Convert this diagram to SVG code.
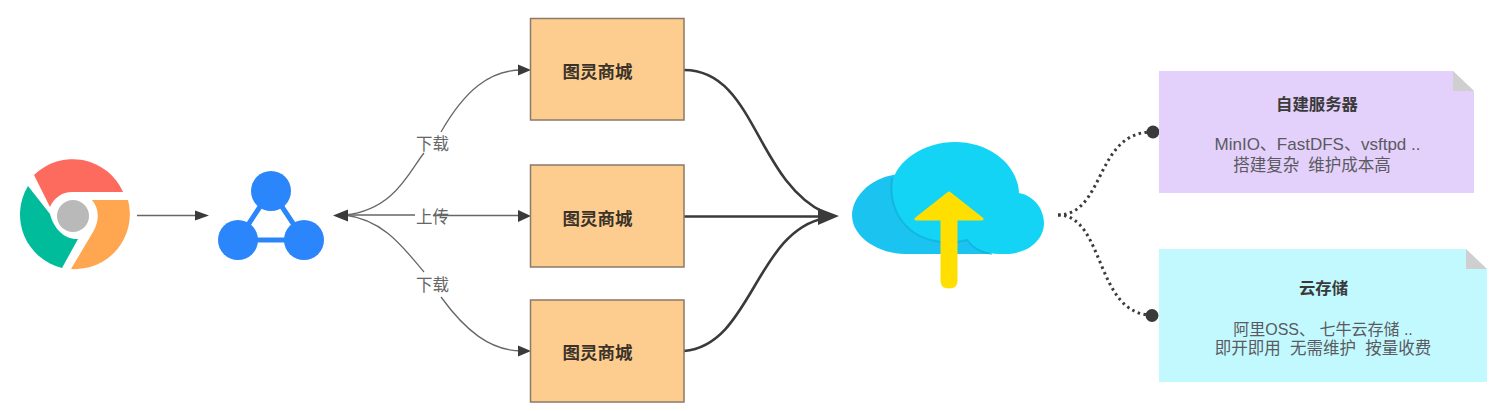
<svg xmlns="http://www.w3.org/2000/svg" width="1506" height="411" viewBox="0 0 1506 411">
<style>
text{font-family:"Liberation Sans","Noto Sans CJK SC",sans-serif;text-anchor:middle}
.box{fill:#fdcd90;stroke:#8a7a68;stroke-width:1.5}
.bt{font-size:17.5px;font-weight:700;fill:#3a3228}
.lab{font-size:16.5px;fill:#666}
.thin{fill:none;stroke:#666;stroke-width:1.3}
.thick{fill:none;stroke:#3a3a3a;stroke-width:2.6}
.dot{fill:none;stroke:#3c3c3c;stroke-width:3;stroke-dasharray:2.5 3.5}
.ah{fill:#3a3a3a}
.nt{font-size:16.4px;font-weight:700;fill:#3a3a3a}
.nb{font-size:16.5px;fill:#5a5a60}
.fold{fill:#cfcfcf}
</style>
<rect width="1506" height="411" fill="#fff"/>
<g id="connectors">
<path class="thin" d="M137 215.500H198"/>
<polygon class="ah" points="195,210.500 209,215.500 195,220.500"/>
<path class="thin" d="M345 215C395 210 410 170 424 153M441 132C465 90 490 70 522 70"/>
<path class="thin" d="M345 215H415M433 215.500H522"/>
<path class="thin" d="M345 215C385 220 405 250 424 272M441 297C465 330 490 351 522 351"/>
<polygon class="ah" points="518,64.500 531,70 518,75.500"/>
<polygon class="ah" points="518,210 531,216 518,222"/>
<polygon class="ah" points="518,345.500 531,351 518,356.500"/>
<polygon class="ah" points="333,215.500 348,209.500 348,221.500"/>
<path class="thick" d="M684 70C755 70 755 180 825 213"/>
<path class="thick" d="M684 216.500H825"/>
<path class="thick" d="M684 351C752 345 755 232 825 218"/>
<polygon class="ah" points="818,208 839,216 818,225"/>
<path class="dot" d="M1058 215C1105 215 1095 132 1152 132"/>
<path class="dot" d="M1058 215C1105 215 1095 315 1152 315"/>
<circle class="ah" cx="1153" cy="132" r="6.500"/>
<circle class="ah" cx="1152" cy="315.500" r="6.500"/>
</g>
<g id="chrome">
<path fill="#fd6a5e" d="M34 175A55 55 0 0 1 123 192H72C62 192 54 198 50 207Z"/>
<path fill="#00bc9b" d="M28 186L50 214C54 230 66 240 78 239L62 268A55 55 0 0 1 28 186Z"/>
<path fill="#fea650" d="M92 200H128A55 55 0 0 1 71 269L93 232C100 220 99 208 92 200Z"/>
<circle cx="73" cy="216" r="16" fill="#b9b9b9"/>
</g>
<g id="hub">
<path d="M271 190L238 240H304Z" fill="none" stroke="#2b85fb" stroke-width="5"/>
<circle cx="271" cy="191" r="20" fill="#2b85fb"/>
<circle cx="238" cy="240" r="20" fill="#2b85fb"/>
<circle cx="304" cy="240" r="20" fill="#2b85fb"/>
</g>
<g id="store1"><rect class="box" x="530.500" y="18.500" width="153.500" height="101.500"/><text class="bt" x="597.500" y="78">图灵商城</text></g>
<g id="store2"><rect class="box" x="530.500" y="165" width="153.500" height="102"/><text class="bt" x="597.500" y="225">图灵商城</text></g>
<g id="store3"><rect class="box" x="530.500" y="300" width="153.500" height="102"/><text class="bt" x="597.500" y="359">图灵商城</text></g>
<g id="labels">
<text class="lab" x="432.500" y="150">下载</text>
<text class="lab" x="432.500" y="223">上传</text>
<text class="lab" x="432.500" y="291">下载</text>
</g>
<g id="cloud">
<path fill="#1bc3f0" d="M908 174C875 172 852 195 852 215C852 238 880 254 905 254H990V200Z"/>
<path fill="#14d4f6" d="M1019 193C1035 196 1044 210 1044 223C1044 240 1028 254 1005 254H1000C985 254 973 248 967 240C955 243 945 243 935 241C905 235 890 210 892 185C895 160 925 142 955 142C990 142 1018 165 1019 193Z"/>
<path fill="none" stroke="#11a8cc" stroke-width="2" opacity=".55" d="M892 178C888 210 905 235 935 241C945 243 955 243 967 240C973 248 982 253 992 254"/>
<path fill="#ffdf00" stroke="#ffdf00" stroke-width="3" stroke-linejoin="round" d="M949 193L916 219H942V281Q942 287 949 287Q956 287 956 281V219H982Z"/>
</g>
<g id="note1">
<path fill="#e3d0fb" d="M1159 71H1453L1474 91V193H1159Z"/>
<path class="fold" d="M1453 71L1474 91H1453Z"/>
<text class="nt" x="1317" y="110">自建服务器</text>
<text class="nb" x="1317.500" y="150" style="font-size:17px">MinIO、FastDFS、vsftpd ..</text>
<text class="nb" x="1312" y="171" xml:space="preserve">搭建复杂  维护成本高</text>
</g>
<g id="note2">
<path fill="#c2f9fe" d="M1159 249H1466L1487 269V382H1159Z"/>
<path class="fold" d="M1466 249L1487 269H1466Z"/>
<text class="nt" x="1323.500" y="294">云存储</text>
<text class="nb" x="1323" y="335" style="font-size:16px" xml:space="preserve">阿里OSS、 七牛云存储 ..</text>
<text class="nb" x="1323" y="354" xml:space="preserve">即开即用  无需维护  按量收费</text>
</g>
</svg>
